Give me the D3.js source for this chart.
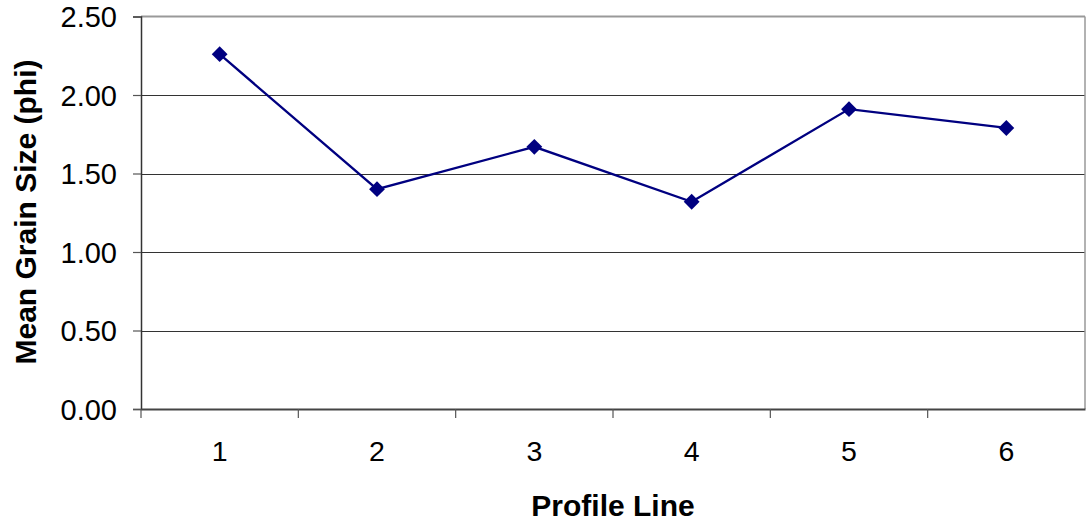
<!DOCTYPE html>
<html><head><meta charset="utf-8">
<script src="https://cdn.jsdelivr.net/npm/d3@7"></script>
<style>body{margin:0;background:#fff}svg{display:block}</style>
</head><body>
<svg id="c" width="1086" height="523"></svg>
<script>
const categories = ["1","2","3","4","5","6"];
const values = [2.26, 1.40, 1.67, 1.32, 1.91, 1.79];
const yTicks = [0, 0.5, 1.0, 1.5, 2.0, 2.5];

const svg = d3.select("#c");
const L = 141, R = 1085, T = 16.5, B = 409;
const x = d3.scaleBand().domain(categories).range([L, R]);
const y = d3.scaleLinear().domain([0, 2.5]).range([B, T]);
const font = "'Liberation Sans', Arial, sans-serif";

// gridlines
svg.append("g").selectAll("line").data(yTicks.filter(d => d > 0 && d < 2.5)).join("line")
  .attr("x1", L).attr("x2", R).attr("y1", d => Math.round(y(d)) + 0.5).attr("y2", d => Math.round(y(d)) + 0.5)
  .attr("stroke", "#333").attr("stroke-width", 1.2);
// top & right border
svg.append("line").attr("x1", L).attr("x2", R).attr("y1", T).attr("y2", T).attr("stroke", "#999").attr("stroke-width", 2);
svg.append("line").attr("x1", R).attr("x2", R).attr("y1", T).attr("y2", B).attr("stroke", "#999").attr("stroke-width", 1.5);

// y axis
const yAxis = d3.axisLeft(y).tickValues(yTicks).tickFormat(d3.format(".2f")).tickSize(8).tickPadding(16);
const gy = svg.append("g").attr("transform", `translate(${L},0)`).call(yAxis);
gy.select(".domain").attr("stroke", "#333").attr("stroke-width", 1.5);
gy.selectAll(".tick line").attr("stroke", "#555").attr("stroke-width", 1.2);
gy.selectAll("text").attr("font-family", font).attr("font-size", 29).attr("fill", "#000").attr("dy", "0.35em");

// x axis
const xAxis = d3.axisBottom(x).tickSize(0).tickPadding(32);
const gx = svg.append("g").attr("transform", `translate(0,${B})`).call(xAxis);
gx.select(".domain").attr("stroke", "#444").attr("stroke-width", 2);
gx.selectAll("text").attr("font-family", font).attr("font-size", 28.5).attr("fill", "#000");
// boundary ticks between categories
const bounds = categories.map(c => x(c));
svg.append("g").selectAll("line").data(bounds).join("line")
  .attr("x1", d => d).attr("x2", d => d).attr("y1", B).attr("y2", B + 9)
  .attr("stroke", "#555").attr("stroke-width", 1.2);

// line
const cx = c => x(c) + x.bandwidth() / 2;
svg.append("path").datum(values)
  .attr("d", d3.line().x((d, i) => cx(categories[i])).y(d => y(d)))
  .attr("fill", "none").attr("stroke", "#000080").attr("stroke-width", 2.3);
svg.append("g").selectAll("path").data(values).join("path")
  .attr("d", d3.symbol().type(d3.symbolSquare).size(125))
  .attr("transform", (d, i) => `translate(${cx(categories[i])},${y(d)}) rotate(45)`)
  .attr("fill", "#000080");

// titles
svg.append("text").attr("x", 613).attr("y", 516).attr("text-anchor", "middle")
  .attr("font-family", font).attr("font-size", 30).attr("font-weight", "bold").text("Profile Line");
svg.append("text").attr("transform", `translate(36,212) rotate(-90)`).attr("text-anchor", "middle")
  .attr("font-family", font).attr("font-size", 30).attr("font-weight", "bold").text("Mean Grain Size (phi)");
</script>
</body></html>
